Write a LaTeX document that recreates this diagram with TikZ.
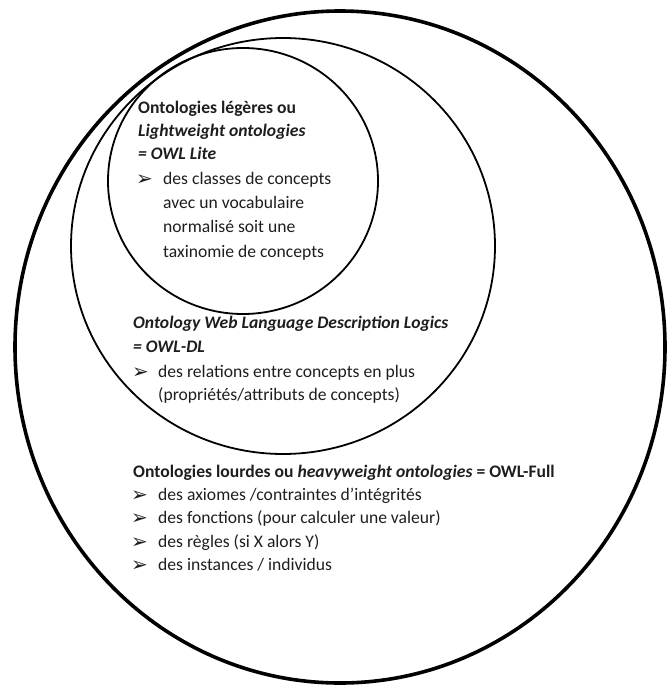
\documentclass[tikz,border=0pt]{standalone}
\usepackage{fontspec}
\setmainfont{Carlito}
\newfontfamily\symfont{DejaVu Sans}
\definecolor{ink}{HTML}{1E1E1E}
\begin{document}
\begin{tikzpicture}[x=1pt,y=-1pt,
  ring/.style={draw=black, line width=1.8pt},
  bigring/.style={draw=black, line width=3.6pt},
  txt/.style={anchor=base west, inner sep=0pt, text=ink,
    font=\fontsize{17.6}{21}\selectfont},
  head/.style={txt, font=\fontsize{17.6}{21}\selectfont\bfseries},
  headit/.style={txt, font=\fontsize{17.6}{21}\selectfont\bfseries\itshape},
  bul/.style={anchor=base west, inner sep=0pt, text=ink,
    font=\fontsize{20}{22}\symfont\bfseries}]
\useasboundingbox (0,0) rectangle (667,688);

% nested circles
\draw[bigring] (340,347) ellipse [x radius=325pt, y radius=336pt];
\draw[ring] (283,246) ellipse [x radius=212pt, y radius=208pt];
\draw[ring] (243,181) ellipse [x radius=135pt, y radius=133pt];

% lightweight ontologies
\node[head]   (l1) at (138,113) {Ontologies légères ou};
\node[headit] (l2) at (138,136) {Lightweight ontologies};
\node[headit] (l3) at (138,159) {= OWL Lite};
\node[bul]    (lb) at (136,185) {➢};
\node[txt]    (l4) at (163,184) {des classes de concepts};
\node[txt]    (l5) at (163,208) {avec un vocabulaire};
\node[txt]    (l6) at (163,232) {normalisé soit une};
\node[txt]    (l7) at (163,257) {taxinomie de concepts};

% OWL-DL
\node[headit] (d1) at (133,328) {Ontology Web Language Description Logics};
\node[headit] (d2) at (133,352) {= OWL-DL};
\node[bul]    (db) at (132,378) {➢};
\node[txt]    (d3) at (158,377) {des relations entre concepts en plus};
\node[txt]    (d4) at (158,400) {(propriétés/attributs de concepts)};

% heavyweight ontologies
\node[head] (h0) at (133,477) {Ontologies lourdes ou \textit{heavyweight ontologies} = OWL-Full};
\node[bul]  (hb1) at (131,501) {➢};
\node[bul]  (hb2) at (131,524) {➢};
\node[bul]  (hb3) at (131,548) {➢};
\node[bul]  (hb4) at (131,571) {➢};
\node[txt]  (h1) at (158,500) {des axiomes /contraintes d’intégrités};
\node[txt]  (h2) at (158,523) {des fonctions (pour calculer une valeur)};
\node[txt]  (h3) at (158,547) {des règles (si X alors Y)};
\node[txt]  (h4) at (158,570) {des instances / individus};
\end{tikzpicture}
\end{document}
